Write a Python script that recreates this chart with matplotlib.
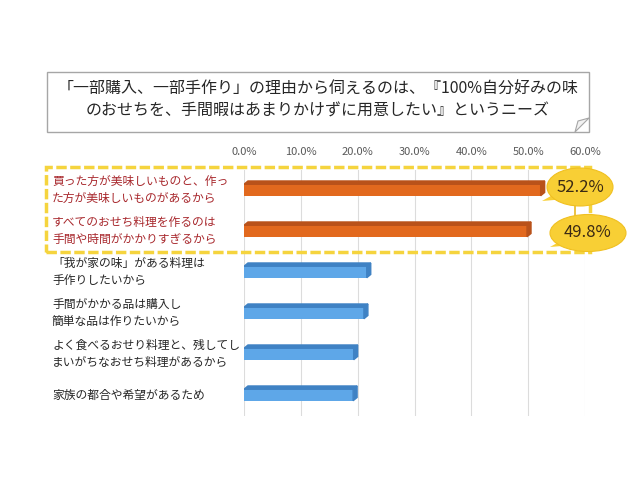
import numpy as np
import matplotlib
matplotlib.use('Agg')
import matplotlib.pyplot as plt
import matplotlib.transforms as mtrans
from matplotlib.patches import Rectangle, Ellipse, Polygon

plt.rcParams['font.family'] = ['Noto Sans CJK JP', 'DejaVu Sans']

title = '「一部購入、一部手作り」の理由から伺えるのは、『100%自分好みの味\nのおせちを、手間暇はあまりかけずに用意したい』というニーズ'
labels = ['買った方が美味しいものと、作っ\nた方が美味しいものがあるから',
          'すべてのおせち料理を作るのは\n手間や時間がかかりすぎるから',
          '「我が家の味」がある料理は\n手作りしたいから',
          '手間がかかる品は購入し\n簡単な品は作りたいから',
          'よく食べるおせり料理と、残してし\nまいがちなおせち料理があるから',
          '家族の都合や希望があるため']
values = [52.2, 49.8, 21.6, 21.1, 19.3, 19.2]
highlight = [True, True, False, False, False, False]
xticks = [0, 10, 20, 30, 40, 50, 60]

W, H = 640, 480
def px(x, y):
    return x / W, 1 - y / H

fig = plt.figure(figsize=(6.4, 4.8), dpi=100)
ax = fig.add_axes([244 / W, 1 - 415.5 / H, 341 / W, 246 / H])

y = np.arange(len(values))
h = 0.28
face = ['#e2691e' if hl else '#5ea7e8' for hl in highlight]
top = ['#b9521a' if hl else '#3f82c4' for hl in highlight]
ax.barh(y, values, height=h, color=face, zorder=3)

# 3D look: top and side faces
dx, dy = 0.7, 0.08
for yi, v, c in zip(y, values, top):
    y0 = yi - h / 2
    ax.add_patch(Polygon([(0, y0), (v, y0), (v + dx, y0 - dy), (dx, y0 - dy)],
                         closed=True, color=c, zorder=3))
    ax.add_patch(Polygon([(v, y0), (v + dx, y0 - dy), (v + dx, y0 + h - dy), (v, y0 + h)],
                         closed=True, color=c, zorder=3))

ax.set_xlim(0, 60)
ax.set_ylim(len(values) - 0.5, -0.5)
ax.set_xticks(xticks)
ax.set_xticklabels([f'{t:.1f}%' for t in xticks], color='#595959', fontsize=8)
ax.xaxis.tick_top()
ax.tick_params(axis='x', length=0, pad=9)
ax.set_yticks([])
for s in ax.spines.values():
    s.set_visible(False)
ax.grid(axis='x', color='#dcdcdc', lw=0.8, zorder=0)

# category labels
tr = mtrans.blended_transform_factory(fig.transFigure, ax.transData)
for yi, lab, hl in zip(y, labels, highlight):
    ax.text(52 / W, yi, lab, transform=tr, ha='left', va='center', fontsize=8.5,
            color='#a8282d' if hl else '#262626', linespacing=1.35)

# title box
x0, y0 = px(47, 132)
x1, y1 = px(589, 72)
fig.patches.append(Rectangle((x0, y0), x1 - x0, y1 - y0, transform=fig.transFigure,
                             fc='white', ec='#a6a6a6', lw=1.0, zorder=0))
fig.patches.append(Polygon([px(575, 132), px(589, 118), px(578, 121)], closed=True,
                           transform=fig.transFigure, fc='#f2f2f2', ec='#a6a6a6', lw=0.8))
fig.text(*px(318, 100), title, ha='center', va='center', fontsize=11.5,
         color='#262626', linespacing=1.45)

# dashed highlight box
bx0, by0 = px(46, 252)
bx1, by1 = px(590, 167)
fig.patches.append(Rectangle((bx0, by0), bx1 - bx0, by1 - by0, transform=fig.transFigure,
                             fill=False, ec='#f5d43e', lw=2.5, ls=(0, (3, 1)), zorder=5))

# callouts
callouts = [(580, 187, 66, 38), (588, 233, 76, 37)]
fig.lines.append(plt.Line2D(*zip(px(575, 200), px(575, 220)), transform=fig.transFigure,
                            color='#e8b923', lw=1.2))
for (cx, cy, ew, eh), v in zip(callouts, values[:2]):
    fig.patches.append(Polygon([px(cx - 22, cy + 5), px(cx - 38, cy + 14), px(cx - 14, cy + 12)],
                               closed=True, transform=fig.transFigure, fc='#f8cf35', ec='none', zorder=6))
    fig.patches.append(Ellipse(px(cx, cy), ew / W, eh / H, transform=fig.transFigure,
                               fc='#f8cf35', ec='#f0c020', lw=0.8, zorder=6))
    fig.text(*px(cx, cy), f'{v:.1f}%', ha='center', va='center', fontsize=12,
             color='#3b2a14', zorder=7)

fig.savefig('out.png', dpi=100)
